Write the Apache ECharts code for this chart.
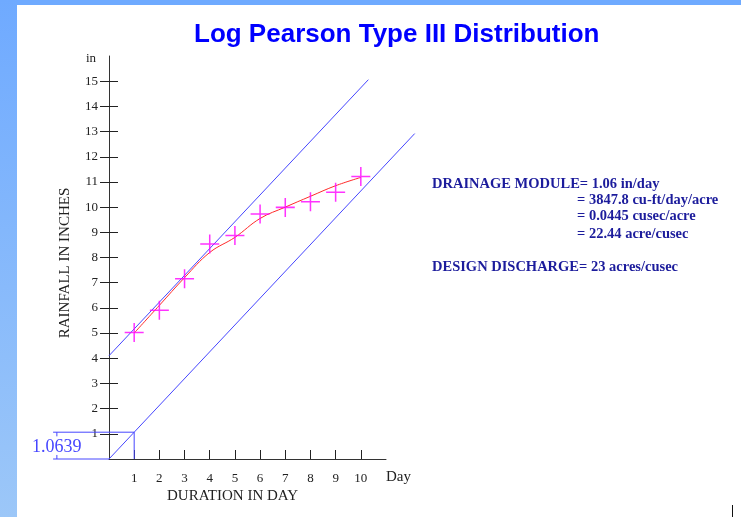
<!DOCTYPE html>
<html>
<head>
<meta charset="utf-8">
<script src="https://cdn.jsdelivr.net/npm/echarts@6/dist/echarts.min.js"></script>
<style>
  html, body { margin: 0; padding: 0; background: #fff; }
  #chart { width: 741px; height: 517px; }
</style>
</head>
<body>
<div id="chart"></div>
<script>
// values
const days = [1, 2, 3, 4, 5, 6, 7, 8, 9, 10]
const rainfall = [5.02, 5.91, 7.16, 8.54, 8.87, 9.73, 9.99, 10.21, 10.59, 11.22]  // observed (crosses)
const fitted = [5.0, 6.1, 7.2, 8.2, 8.8, 9.55, 10.0, 10.43, 10.85, 11.18]        // red curve
const xTicks = [1, 2, 3, 4, 5, 6, 7, 8, 9, 10]
const yTicks = [1, 2, 3, 4, 5, 6, 7, 8, 9, 10, 11, 12, 13, 14, 15]
// blue construction segments [x1, y1, x2, y2]
const blueSegments = [
  [0, 4.1, 10.3, 15.06],        // upper envelope
  [0, 0, 12.14, 12.92],         // slope 1.0639 through origin
  [-2.22, 1.0639, 1, 1.0639],   // guide at 1.0639
  [1, 0, 1, 1.0639],            // vertical at day 1
  [-2.22, 0, 0, 0],             // base line left of origin
  [-2.07, 1.0639, -2.07, 0.9],  // dimension marks
  [-2.07, 0, -2.07, 0.16]
]
const infoLines = [
  'DRAINAGE MODULE= 1.06 in/day',
  '= 3847.8 cu-ft/day/acre',
  '= 0.0445 cusec/acre',
  '= 22.44 acre/cusec',
  'DESIGN DISCHARGE= 23 acres/cusec'
]

const serif = '"Liberation Serif", "DejaVu Serif", serif'
const blue = '#4646ff'
const navy = '#1c1c9c'

const chart = echarts.init(document.getElementById('chart'), null, { renderer: 'canvas' })

const infoX = [432, 577, 577, 577, 432]
const infoY = [185, 201, 217, 235, 268]

chart.setOption({
  animation: false,
  backgroundColor: '#fff',
  title: {
    text: 'Log Pearson Type III Distribution',
    left: 189,
    top: 17,
    textStyle: {
      color: '#0000ff',
      fontSize: 26,
      fontWeight: 'bold',
      fontFamily: '"Liberation Sans", Arial, sans-serif'
    }
  },
  grid: { left: 109, right: 355, top: 56, bottom: 58, containLabel: false },
  xAxis: {
    type: 'value',
    min: 0,
    max: 11,
    interval: 1,
    splitLine: { show: false },
    axisLine: { lineStyle: { color: '#333', width: 1 } },
    axisTick: { inside: true, length: 9, customValues: xTicks, lineStyle: { color: '#222' } },
    axisLabel: { customValues: xTicks, margin: 13, color: '#222', fontSize: 13, fontFamily: serif }
  },
  yAxis: [
    {
      type: 'value',
      min: 0,
      max: 16,
      interval: 1,
      splitLine: { show: false },
      axisLine: { show: true, lineStyle: { color: '#333', width: 1 } },
      axisTick: { length: 9, customValues: yTicks, lineStyle: { color: '#222' } },
      axisLabel: { customValues: yTicks, margin: 11, color: '#222', fontSize: 13, fontFamily: serif }
    },
    {
      type: 'value',
      position: 'left',
      min: 0,
      max: 16,
      interval: 1,
      splitLine: { show: false },
      axisLine: { show: false },
      axisTick: { show: true, inside: true, length: 9, customValues: yTicks, lineStyle: { color: '#222' } },
      axisLabel: { show: false }
    }
  ],
  series: [
    {
      type: 'custom',
      data: blueSegments,
      clip: false,
      silent: true,
      z: 3,
      renderItem: (params, api) => {
        const p1 = api.coord([api.value(0), api.value(1)])
        const p2 = api.coord([api.value(2), api.value(3)])
        return {
          type: 'line',
          shape: { x1: p1[0], y1: p1[1], x2: p2[0], y2: p2[1] },
          style: { stroke: blue, lineWidth: 1 }
        }
      }
    },
    {
      type: 'line',
      data: days.map((d, i) => [d, fitted[i]]),
      smooth: 0.4,
      symbol: 'none',
      silent: true,
      lineStyle: { color: '#ff2a2a', width: 1 },
      z: 4
    },
    {
      type: 'scatter',
      data: days.map((d, i) => [d, rainfall[i]]),
      symbol: 'path://M-0.8,-10h1.6v20h-1.6zM-10,-0.8h20v1.6h-20z',
      symbolSize: 19,
      silent: true,
      itemStyle: { color: '#ff00ff' },
      z: 5
    }
  ],
  graphic: [
    { type: 'rect', left: 0, top: 0, shape: { width: 741, height: 5 }, style: { fill: '#6faaff' }, z: 10 },
    {
      type: 'rect', left: 0, top: 0, shape: { width: 17, height: 517 },
      style: {
        fill: new echarts.graphic.LinearGradient(0, 0, 0, 1, [
          { offset: 0, color: '#6faaff' },
          { offset: 1, color: '#9cc7f8' }
        ])
      },
      z: 10
    },
    { type: 'rect', left: 732, top: 505, shape: { width: 1, height: 12 }, style: { fill: '#111' } },
    { type: 'text', left: 86, top: 52, style: { text: 'in', fill: '#222', font: '13px ' + serif } },
    { type: 'text', left: 386, top: 470, style: { text: 'Day', fill: '#222', font: '15px ' + serif } },
    { type: 'text', left: 167, top: 489, style: { text: 'DURATION IN DAY', fill: '#222', font: '15px ' + serif } },
    {
      type: 'text', x: 65, y: 263, rotation: Math.PI / 2,
      style: { text: 'RAINFALL IN INCHES', fill: '#222', font: '15px ' + serif, align: 'center', verticalAlign: 'middle' }
    },
    { type: 'text', left: 32, top: 438, style: { text: '1.0639', fill: blue, font: '18px ' + serif } }
  ].concat(infoLines.map((t, i) => ({
    type: 'text',
    left: infoX[i],
    top: infoY[i] - 8,
    style: { text: t, fill: navy, font: 'bold 14.5px ' + serif }
  })))
})
</script>
</body>
</html>
